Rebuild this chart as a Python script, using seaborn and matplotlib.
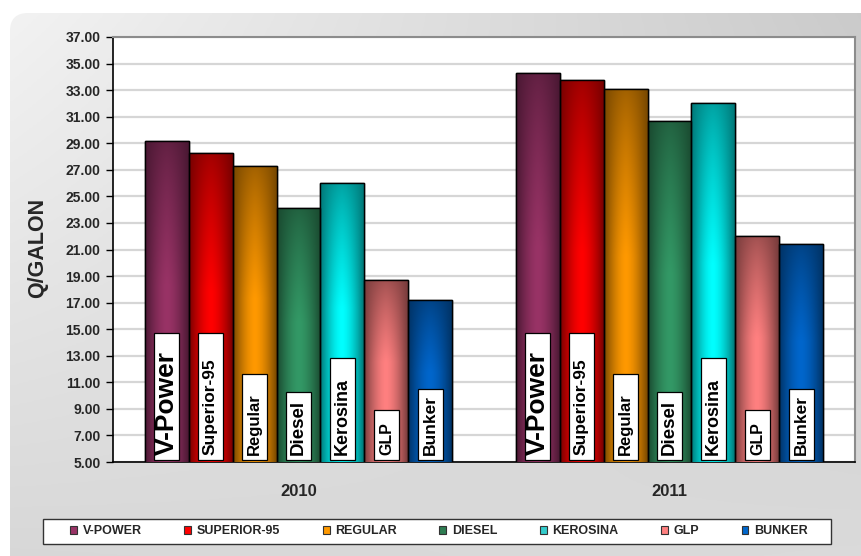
import numpy as np
import pandas as pd
import matplotlib
matplotlib.use("Agg")
import matplotlib.pyplot as plt
import seaborn as sns
from matplotlib.patches import FancyBboxPatch, Patch, Rectangle
from matplotlib.colors import to_rgb

# ---------------- data ----------------
years = ["2010", "2011"]
fuels = ["V-POWER", "SUPERIOR-95", "REGULAR", "DIESEL", "KEROSINA", "GLP", "BUNKER"]
bar_labels = ["V-Power", "Superior-95", "Regular", "Diesel", "Kerosina", "GLP", "Bunker"]
price_2010 = [29.15, 28.30, 27.30, 24.10, 26.02, 18.70, 17.20]
price_2011 = [34.30, 33.75, 33.10, 30.70, 32.05, 22.00, 21.45]
y_ticks = [5, 7, 9, 11, 13, 15, 17, 19, 21, 23, 25, 27, 29, 31, 33, 35, 37]

# styles
mid_colors = ["#993366", "#FF0000", "#FF9900", "#339966", "#00FFFF", "#FF8080", "#0066CC"]
dark_colors = ["#4A1833", "#780000", "#784800", "#1A4A30", "#007878", "#783C3C", "#003366"]
legend_colors = ["#993366", "#FF0000", "#FF9900", "#2E7D52", "#33CCCC", "#FF8080", "#0066CC"]
label_sizes = [19, 12.5, 12, 13.5, 13, 11.5, 12.5]
label_box_tops = [14.75, 14.75, 11.65, 10.3, 12.8, 8.95, 10.5]

df = pd.DataFrame({
    "year": [y for y in years for _ in fuels],
    "fuel": fuels * 2,
    "price": price_2010 + price_2011,
})

sns.set_theme(style="white")
plt.rcParams["font.family"] = ["Liberation Sans", "DejaVu Sans"]

W, H = 862, 556
fig = plt.figure(figsize=(W / 100, H / 100), dpi=100)
fig.patch.set_facecolor("white")

# background panel with grey gradient and rounded corner
bg = fig.add_axes([0, 0, 1, 1], zorder=-5)
bg.set_xlim(0, W)
bg.set_ylim(0, H)
bg.axis("off")
xx = np.linspace(0, 1, 200)[None, :]
yy = np.linspace(0, 1, 200)[:, None]  # 0 = top
tl, tr, bl, br = 0.95, 0.79, 0.84, 0.86
g = tl * (1 - xx) * (1 - yy) + tr * xx * (1 - yy) + bl * (1 - xx) * yy + br * xx * yy
img = np.dstack([g, g, g])
panel = FancyBboxPatch((10, -30), W + 40, (H - 13) + 30,
                       boxstyle="round,pad=0,rounding_size=18",
                       transform=bg.transData, fc="none", ec="none")
bg.add_patch(panel)
im = bg.imshow(img, extent=(10, W + 30, -30, H - 13), origin="upper", aspect="auto")
im.set_clip_path(panel)

# main axes
ax = fig.add_axes([113 / W, 1 - 462 / H, (855 - 113) / W, (462 - 37) / H])
ax.set_facecolor("white")

sns.barplot(data=df, x="year", y="price", hue="fuel", hue_order=fuels,
            palette=mid_colors, width=0.83, edgecolor="black", linewidth=1.0,
            saturation=1, ax=ax, legend=True, zorder=3)

ax.set_ylim(5, 37)
ax.set_xlim(-0.5, 1.5)
ax.set_yticks(y_ticks)
ax.set_yticklabels([f"{v:.2f}" for v in y_ticks], fontsize=10, fontweight="bold")
ax.yaxis.grid(True, color="#D6D6D6", linewidth=1.6, zorder=0)
ax.set_axisbelow(True)
ax.tick_params(axis="y", direction="out", length=5, width=1, color="black", pad=4, left=True)
ax.tick_params(axis="x", length=0, pad=16)
ax.set_xticks([0, 1])
ax.set_xticklabels(years, fontsize=12, fontweight="bold")
ax.set_xticks([-0.5, 0.5, 1.5], minor=True)
ax.tick_params(axis="x", which="minor", direction="out", length=6, width=1, color="black")
ax.set_xlabel("")
ax.set_ylabel("Q/GALON", fontsize=15.5, fontweight="bold")
ax.yaxis.set_label_coords(-0.088, 0.503)

for side in ["left", "bottom"]:
    ax.spines[side].set_color("black")
    ax.spines[side].set_linewidth(1.2)
for side in ["top", "right"]:
    ax.spines[side].set_visible(True)
    ax.spines[side].set_color("#8C8C8C")
    ax.spines[side].set_linewidth(1.5)

# gradient shading on bars + label boxes
nx, ny = 60, 120
hx = np.linspace(0, 1, nx)
hprof = 1 - np.abs(2 * hx - 1) ** 1.6
box_w = 25 / 742 * 2  # ~25 px in data units
for i, cont in enumerate(ax.containers):
    dark = np.array(to_rgb(dark_colors[i]))
    bright = np.array(to_rgb(mid_colors[i]))
    for patch in cont.patches:
        x0 = patch.get_x()
        w = patch.get_width()
        top = patch.get_height()
        frac = np.linspace(0, 1, ny)  # 0 = top
        span = top - 5
        vprof = np.clip(frac * span / (0.45 * span), 0, 1) ** 0.8
        f = hprof[None, :] * (0.3 + 0.7 * vprof[:, None])
        f = np.clip(f, 0, 1)
        gimg = dark[None, None, :] + (bright - dark)[None, None, :] * f[:, :, None]
        gi = ax.imshow(gimg, extent=(x0, x0 + w, 5, top), origin="upper",
                       aspect="auto", zorder=3.5, interpolation="bilinear")
        gi.set_clip_path(patch)
        ax.add_patch(Rectangle((x0, 0), w, top, fill=False, ec="black", lw=1.0, zorder=4))
        cx = x0 + w / 2
        ax.add_patch(Rectangle((cx - box_w / 2, 5.12), box_w, label_box_tops[i] - 5.12,
                               fc="white", ec="black", lw=0.9, zorder=5))
        ax.text(cx, 5.5, bar_labels[i], rotation=90, ha="center", va="bottom",
                fontsize=label_sizes[i], fontweight="bold", color="black", zorder=6)

# legend
leg = ax.get_legend()
if leg is not None:
    leg.remove()
fig.patches.append(Rectangle((43 / W, 1 - 544 / H), (831 - 43) / W, 25 / H,
                             transform=fig.transFigure, fc="white", ec="#333333",
                             lw=1.0, zorder=1))
handles = [Patch(facecolor=c, edgecolor="#333333", linewidth=0.8) for c in legend_colors]
fig.legend(handles, fuels, loc="center",
           bbox_to_anchor=(439 / W, 1 - 531.5 / H),
           ncol=7, frameon=False, prop=dict(size=9, weight="bold"),
           handlelength=0.55, handleheight=0.55, handletextpad=0.45,
           borderaxespad=0, borderpad=0, columnspacing=3.4)

fig.savefig("out.png", dpi=100)
